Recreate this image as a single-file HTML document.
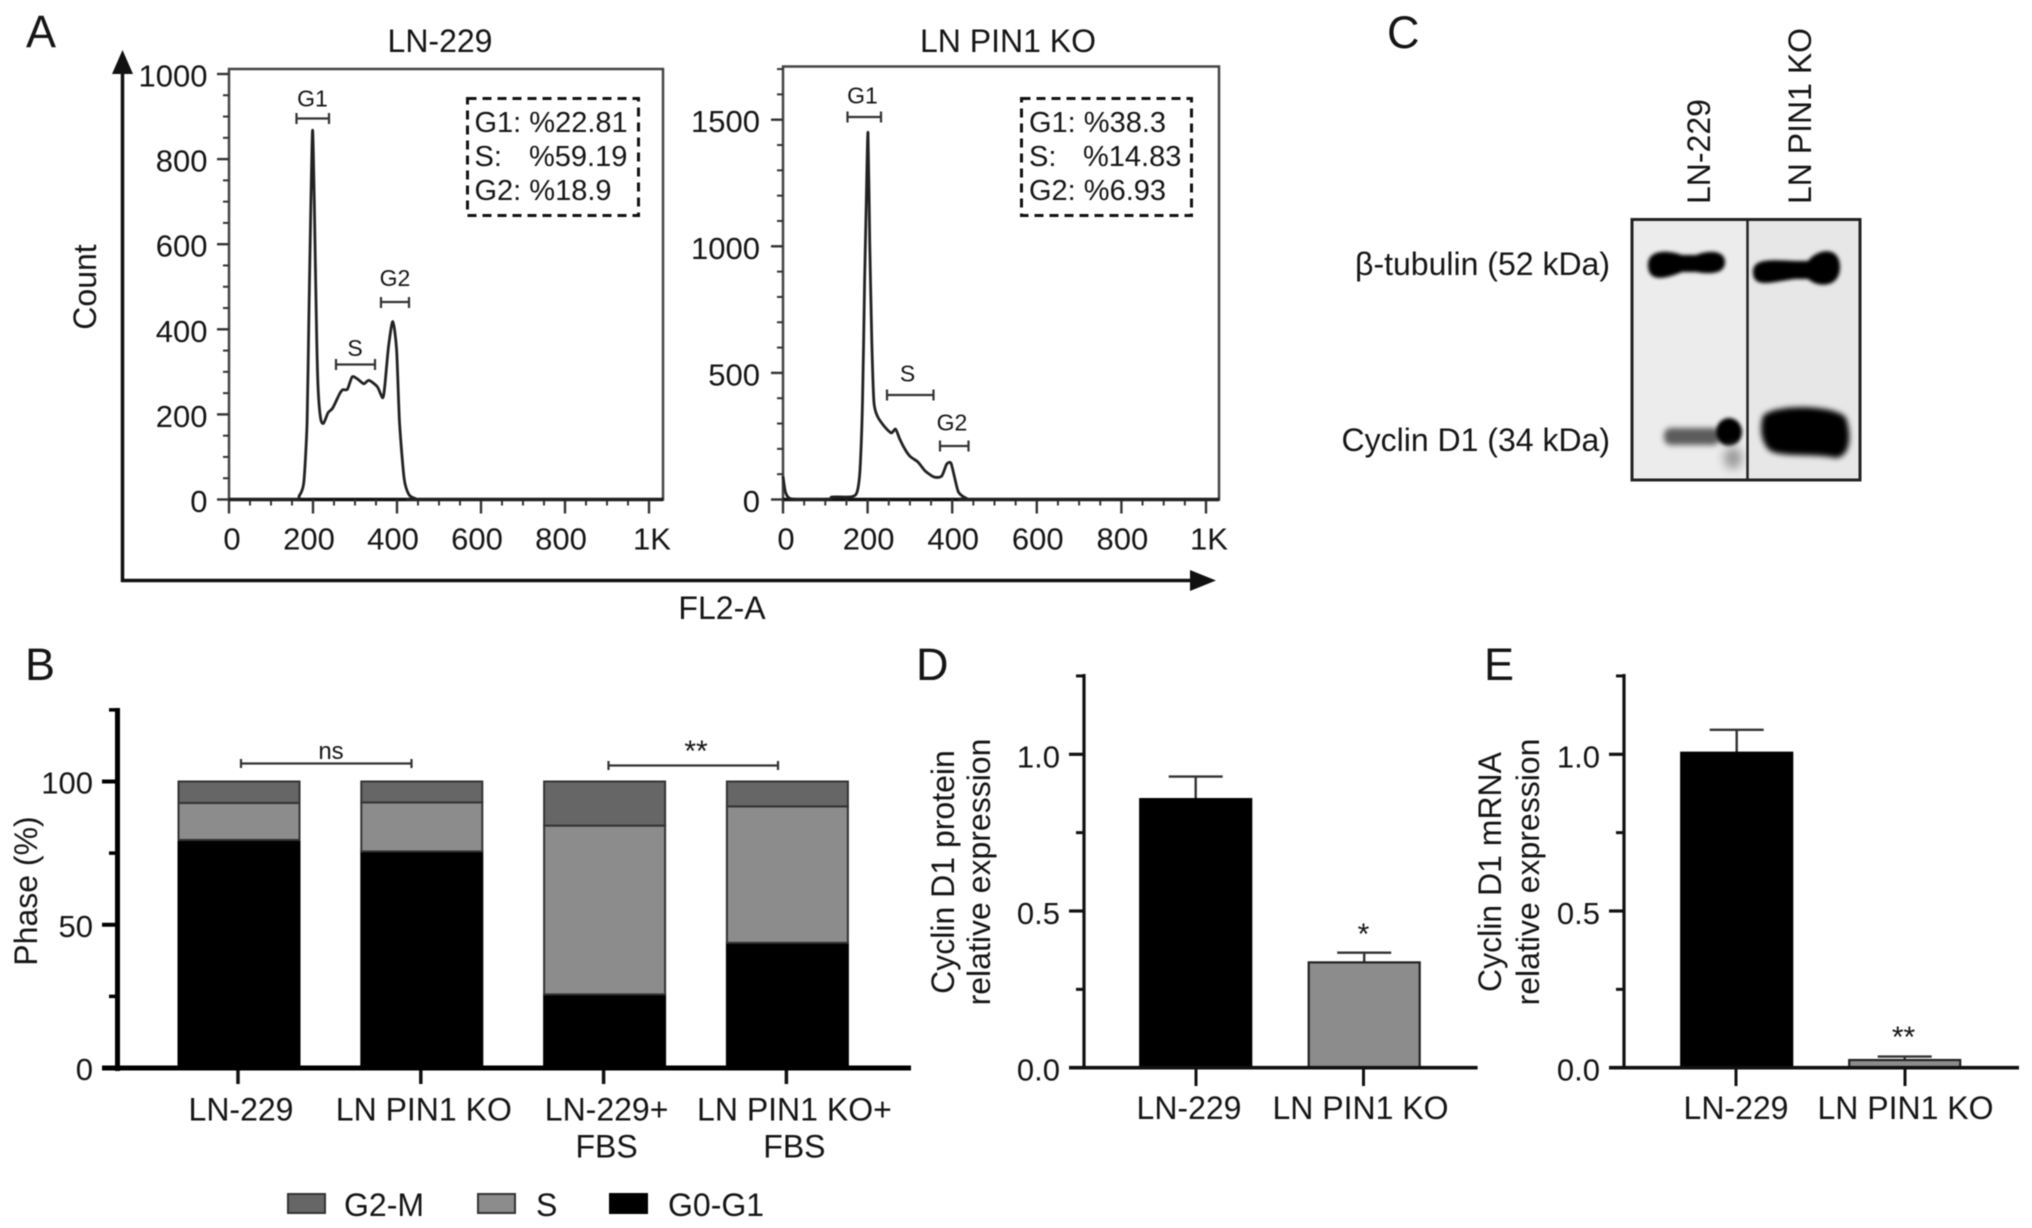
<!DOCTYPE html>
<html lang="en">
<head>
<meta charset="utf-8">
<title>Cell cycle and Cyclin D1 figure</title>
<style>
html,body{margin:0;padding:0;background:#fff;width:2032px;height:1228px;overflow:hidden}
#figure{display:block;filter:blur(0.55px)}
text{font-family:"Liberation Sans",sans-serif;fill:#151515}
</style>
</head>
<body>
<svg id="figure" xmlns="http://www.w3.org/2000/svg" width="2032" height="1228" viewBox="0 0 2032 1228">
  <defs>
    <filter id="blur1" x="-30%" y="-60%" width="160%" height="220%"><feGaussianBlur stdDeviation="1.8"/></filter>
    <filter id="blur3" x="-30%" y="-60%" width="160%" height="220%"><feGaussianBlur stdDeviation="3"/></filter>
    <filter id="blur6" x="-50%" y="-80%" width="200%" height="260%"><feGaussianBlur stdDeviation="5"/></filter>
  </defs>
  <rect x="0" y="0" width="2032" height="1228" fill="#fff"/>

  <!-- panel letters -->
  <text x="26" y="47" font-size="45">A</text>
  <text x="25" y="680" font-size="45">B</text>
  <text x="1387" y="48" font-size="45">C</text>
  <text x="916" y="680" font-size="45">D</text>
  <text x="1484" y="680" font-size="45">E</text>

  <!-- panel A shared axes -->
  <g>
    <line x1="122.5" y1="582" x2="122.5" y2="70" stroke="#111" stroke-width="3.5"/>
    <polygon points="122.5,50 112,74 133,74" fill="#111"/>
    <line x1="121" y1="580.5" x2="1195" y2="580.5" stroke="#111" stroke-width="3.5"/>
    <polygon points="1216,580.5 1190,570 1190,591" fill="#111"/>
  </g>
  <text x="440" y="52" font-size="32" text-anchor="middle">LN-229</text>
  <text x="1008" y="52" font-size="32" text-anchor="middle">LN PIN1 KO</text>
  <text transform="translate(96,287) rotate(-90)" font-size="32" text-anchor="middle">Count</text>
  <text x="722" y="619" font-size="32" text-anchor="middle">FL2-A</text>

  <g id="flow1"></g>
  <g id="flow2"></g>

  <!-- flow gates, left -->
  <g fill="none" stroke="#333" stroke-width="2.2">
    <path d="M296.5 118.5H329M296.5 113v11M329 113v11"/>
    <path d="M336 364.5H375M336 359v11M375 359v11"/>
    <path d="M381 302H409M381 297v11M409 297v11"/>
  </g>
  <text x="312.5" y="106.5" font-size="23" text-anchor="middle">G1</text>
  <text x="355" y="356" font-size="23" text-anchor="middle">S</text>
  <text x="395" y="286" font-size="23" text-anchor="middle">G2</text>
  <rect x="467.5" y="98.5" width="171" height="117" fill="#fff" stroke="#111" stroke-width="3" stroke-dasharray="9 6"/>
  <text x="474.5" y="132" font-size="29">G1: %22.81</text>
  <text x="474.5" y="166" font-size="29"><tspan>S:</tspan><tspan x="529">%59.19</tspan></text>
  <text x="474.5" y="200" font-size="29">G2: %18.9</text>

  <!-- flow gates, right -->
  <g fill="none" stroke="#333" stroke-width="2.2">
    <path d="M847.5 117H881M847.5 111.5v11M881 111.5v11"/>
    <path d="M887 395H933.5M887 389.500v11M933.500 389.500v11"/>
    <path d="M940 446H968.500M940 440.500v11M968.500 440.500v11"/>
  </g>
  <text x="862.5" y="103.5" font-size="23" text-anchor="middle">G1</text>
  <text x="907.5" y="381.5" font-size="23" text-anchor="middle">S</text>
  <text x="952" y="430.5" font-size="23" text-anchor="middle">G2</text>
  <rect x="1021.5" y="98.5" width="170" height="117" fill="#fff" stroke="#111" stroke-width="3" stroke-dasharray="9 6"/>
  <text x="1029" y="132" font-size="29">G1: %38.3</text>
  <text x="1029" y="166" font-size="29"><tspan>S:</tspan><tspan x="1083">%14.83</tspan></text>
  <text x="1029" y="200" font-size="29">G2: %6.93</text>

  <!-- panel C western blot -->
  <g>
    <rect x="1632" y="219.5" width="115.500" height="260.500" fill="#ececec"/>
    <rect x="1747.500" y="219.500" width="112.500" height="260.500" fill="#e7e7e7"/>
    <path d="M1648 265C1648 249 1668 250 1682 255L1696 255C1708 250 1725 250 1725 262C1725 275 1708 274 1696 272L1682 272C1668 278 1648 284 1648 265Z" fill="#000" filter="url(#blur1)"/>
    <path d="M1753 272C1753 258 1772 260 1795 261L1808 261C1818 248 1840 246 1840 267C1840 288 1818 288 1808 279L1795 279C1775 281 1753 290 1753 272Z" fill="#000" filter="url(#blur1)"/>
    <rect x="1664" y="428" width="56" height="17" rx="7" fill="#5c5c5c" filter="url(#blur3)"/>
    <ellipse cx="1729" cy="432" rx="13" ry="14" fill="#000" filter="url(#blur1)"/>
    <ellipse cx="1733" cy="458" rx="9" ry="11" fill="#999" filter="url(#blur6)"/>
    <path d="M1763 416C1775 403 1838 405 1846 418C1851 432 1852 456 1836 458C1815 453 1780 458 1769 450C1760 440 1760 426 1763 416Z" fill="#000" filter="url(#blur3)"/>
    <rect x="1632" y="219.500" width="228" height="260.500" fill="none" stroke="#222" stroke-width="3"/>
    <line x1="1747.500" y1="219.500" x2="1747.500" y2="480" stroke="#222" stroke-width="2.500"/>
  </g>
  <text transform="translate(1710,204) rotate(-90)" font-size="32">LN-229</text>
  <text transform="translate(1811,204) rotate(-90)" font-size="32">LN PIN1 KO</text>
  <text x="1610" y="275" font-size="32" text-anchor="end">β-tubulin (52 kDa)</text>
  <text x="1610" y="451" font-size="32" text-anchor="end">Cyclin D1 (34 kDa)</text>

  <!-- panel B -->
  <g id="stack"></g>
  <text transform="translate(37,891) rotate(-90)" font-size="32" text-anchor="middle">Phase (%)</text>
  <path d="M241 763.500H411.500M241 759v9M411.500 759v9" fill="none" stroke="#333" stroke-width="2.200"/>
  <text x="331" y="759" font-size="24" text-anchor="middle">ns</text>
  <path d="M608.500 765.500H778M608.500 761v9M778 761v9" fill="none" stroke="#333" stroke-width="2.200"/>
  <text x="696" y="761" font-size="30" text-anchor="middle">**</text>
  <g>
    <rect x="288" y="1194" width="37" height="19" fill="#666" stroke="#333" stroke-width="2"/>
    <text x="344" y="1216" font-size="32">G2-M</text>
    <rect x="478" y="1194" width="37" height="19" fill="#8c8c8c" stroke="#333" stroke-width="2"/>
    <text x="536" y="1216" font-size="32">S</text>
    <rect x="610" y="1194" width="37" height="19" fill="#000" stroke="#000" stroke-width="2"/>
    <text x="668" y="1216" font-size="32">G0-G1</text>
  </g>

  <!-- panels D and E -->
  <g id="chartD"></g>
  <g id="chartE"></g>
  <text transform="translate(954,872) rotate(-90)" font-size="32" text-anchor="middle">Cyclin D1 protein</text>
  <text transform="translate(990,872) rotate(-90)" font-size="32" text-anchor="middle">relative expression</text>
  <text transform="translate(1501,872) rotate(-90)" font-size="32" text-anchor="middle">Cyclin D1 mRNA</text>
  <text transform="translate(1539,872) rotate(-90)" font-size="32" text-anchor="middle">relative expression</text>
  <text x="1363.500" y="944" font-size="30" text-anchor="middle">*</text>
  <text x="1903.500" y="1047" font-size="30" text-anchor="middle">**</text>
</svg>

<script>
// Flow cytometry histogram, LN-229
const hist1X = [0,156,167,178,186,190,195,199,203,208,212,218,225,236,247,263,271,282,293,305,321,333,353,366,371,380,390,399,406,417,428,444,460,1030];
const hist1Count = [0,0,8,40,182,418,700,868,700,418,267,191,179,204,215,248,258,259,288,284,272,280,265,239,267,361,418,352,182,50,12,2,0,0];
// Flow cytometry histogram, LN PIN1 KO
const hist2X = [0,6,18,65,111,116,162,175,182,188,193,197,201,205,210,215,223,239,256,266,275,285,300,319,336,357,375,387,397,405,415,433,454,1030];
const hist2Count = [92,29,3,0,2,10,11,29,116,386,862,1179,1449,1020,624,386,330,290,263,278,243,208,171,148,113,89,92,140,144,92,29,5,0,0];
// Flow axis ticks
const flowXTicks = [0,200,400,600,800,1000];
const flowXLabels = ['0','200','400','600','800','1K'];
const flow1YTicks = [0,200,400,600,800,1000];
const flow2YTicks = [0,500,1000,1500];

// Panel B stacked bars
const phaseCategories = [['LN-229'],['LN PIN1 KO'],['LN-229+','FBS'],['LN PIN1 KO+','FBS']];
const phaseG0G1 = [79.6,75.6,25.7,43.7];
const phaseS = [12.9,17.1,58.9,47.6];
const phaseG2M = [7.5,7.3,15.4,8.7];
const phaseTicks = [0,50,100];
const phaseMinorTicks = [25,75,125];

// Panels D and E
const expressionCategories = ['LN-229','LN PIN1 KO'];
const proteinValues = [0.857,0.336];
const proteinErrors = [0.072,0.031];
const mrnaValues = [1.005,0.0245];
const mrnaErrors = [0.073,0.011];
const expressionTicks = [0,0.5,1];
const expressionTickLabels = ['0.0','0.5','1.0'];
const expressionMinorTicks = [0.25,0.75,1.25];

const NS = 'http://www.w3.org/2000/svg';
function add(parent, tag, attrs, content) {
  const el = document.createElementNS(NS, tag);
  for (const k in attrs) el.setAttribute(k, attrs[k]);
  if (content !== undefined) el.textContent = content;
  parent.appendChild(el);
  return el;
}
function linear(d0, d1, r0, r1) {
  return v => r0 + (v - d0) * (r1 - r0) / (d1 - d0);
}
function smoothPath(p) {
  let d = 'M' + p[0][0].toFixed(1) + ' ' + p[0][1].toFixed(1);
  for (let i = 0; i < p.length - 1; i++) {
    const a = p[Math.max(i - 1, 0)], b = p[i], c = p[i + 1], e = p[Math.min(i + 2, p.length - 1)];
    const k = 0.12;
    d += 'C' + (b[0] + (c[0] - a[0]) * k).toFixed(1) + ' ' + (b[1] + (c[1] - a[1]) * k).toFixed(1) + ' ' +
      (c[0] - (e[0] - b[0]) * k).toFixed(1) + ' ' + (c[1] - (e[1] - b[1]) * k).toFixed(1) + ' ' +
      c[0].toFixed(1) + ' ' + c[1].toFixed(1);
  }
  return d;
}

function drawFlow(root, cfg) {
  const x = linear(0, 1000, cfg.x0, cfg.x1000);
  const y = cfg.y;
  let el = add(root, 'rect', {x: cfg.left, y: cfg.top, width: cfg.right - cfg.left, height: cfg.bottom - cfg.top, fill: 'none', stroke: '#444', 'stroke-width': 2.5});
  
  
  el = add(root, 'line', {x1: cfg.left, x2: cfg.right, y1: cfg.bottom, y2: cfg.bottom, stroke: '#111', 'stroke-width': 3.5});
  
  
  for (let v = 0; v <= 1000; v += 50) {
    const major = v % 200 === 0;
    el = add(root, 'line', {x1: x(v), x2: x(v), y1: cfg.bottom, y2: cfg.bottom + (major ? 14 : 6), stroke: '#333', 'stroke-width': major ? 2.4 : 2});
    
    
  }
  flowXTicks.forEach((t, i) => {
    const dx = (i === 0 || i === flowXTicks.length - 1) ? cfg.edgeDx : cfg.midDx;
    const lab = add(root, 'text', {x: x(t) + dx, y: 549.5, 'font-size': 31, 'text-anchor': 'middle'}, flowXLabels[i]);
    
    
  });
  for (let v = 0; v <= cfg.yMaxTick; v += cfg.yMinor) {
    const major = v % cfg.yMajor === 0;
    el = add(root, 'line', {x1: cfg.left - (major ? 12 : 6), x2: cfg.left, y1: y(v), y2: y(v), stroke: '#333', 'stroke-width': major ? 2.4 : 2});
    
    
  }
  cfg.yTicks.forEach(t => {
    const lab = add(root, 'text', {x: cfg.labelRight, y: y(t) + 12.5, 'font-size': 31, 'text-anchor': 'end'}, String(t));
    
    
  });
  const pts = cfg.xs.map((v, i) => [x(v), y(cfg.ys[i])]);
  el = add(root, 'path', {d: smoothPath(pts), fill: 'none', stroke: '#222', 'stroke-width': 2.8, 'stroke-linejoin': 'round'});
  
  
}

drawFlow(document.getElementById('flow1'), {
  x0: 229, x1000: 649, left: 229, right: 663, top: 69, bottom: 499.5,
  y: linear(0, 1000, 499.5, 74), xs: hist1X, ys: hist1Count, yTicks: flow1YTicks,
  yMaxTick: 1000, yMinor: 50, yMajor: 200, labelRight: 207.5, edgeDx: 3, midDx: -4
});
drawFlow(document.getElementById('flow2'), {
  x0: 783, x1000: 1206, left: 783, right: 1219, top: 66.5, bottom: 499.5,
  y: linear(0, 1500, 499.5, 119.7), xs: hist2X, ys: hist2Count, yTicks: flow2YTicks,
  yMaxTick: 1700, yMinor: 100, yMajor: 500, labelRight: 760, edgeDx: 3, midDx: 1
});

// Panel B
(function () {
  const root = document.getElementById('stack');
  const y = linear(0, 100, 1068, 781.5);
  const cx = i => 239 + i * 182.8;
  const barW = 121;
  let el;
  phaseCategories.forEach((cat, i) => {
    let base = 0;
    [[phaseG0G1, '#000', '#000', 'bar-g0-g1'], [phaseS, '#8c8c8c', '#333', 'bar-s'], [phaseG2M, '#666', '#333', 'bar-g2-m']].forEach(s => {
      const v = s[0][i];
      const bar = add(root, 'rect', {x: cx(i) - barW / 2, y: y(base + v), width: barW, height: y(base) - y(base + v), fill: s[1], stroke: s[2], 'stroke-width': 2});
      
      
      base += v;
    });
    el = add(root, 'line', {x1: cx(i) - 1, x2: cx(i) - 1, y1: 1068, y2: 1084, stroke: '#111', 'stroke-width': 3.5});
    
    
    cat.forEach((line, j) => {
      const dx = (i === 3) ? 7 : 2;
      const lab = add(root, 'text', {x: cx(i) + dx, y: j === 0 ? 1120.5 : 1157.5, 'font-size': 32, 'text-anchor': 'middle'}, line);
      
      
    });
  });
  el = add(root, 'line', {x1: 117.5, x2: 117.5, y1: 708, y2: 1071, stroke: '#000', 'stroke-width': 5});
  
  
  el = add(root, 'line', {x1: 102, x2: 911, y1: 1068, y2: 1068, stroke: '#000', 'stroke-width': 5});
  
  
  phaseTicks.forEach(t => {
    const tick = add(root, 'line', {x1: 102, x2: 118, y1: y(t), y2: y(t), stroke: '#000', 'stroke-width': 4});
    
    
    const lab = add(root, 'text', {x: 93, y: y(t) + 12, 'font-size': 31, 'text-anchor': 'end'}, String(t));
    
    
  });
  phaseMinorTicks.forEach(t => {
    const tick = add(root, 'line', {x1: 109, x2: 118, y1: y(t), y2: y(t), stroke: '#000', 'stroke-width': 3.5});
    
    
  });
})();

// Panels D, E
function drawExpression(root, cfg) {
  const y = linear(0, 1, 1067.7, 754.3);
  let el;
  cfg.values.forEach((v, i) => {
    const cx = cfg.barCx[i];
    const stem = add(root, 'line', {x1: cx, x2: cx, y1: y(v), y2: y(v + cfg.errors[i]), stroke: '#333', 'stroke-width': 2.4});
    
    
    const cap = add(root, 'line', {x1: cx - 27, x2: cx + 27, y1: y(v + cfg.errors[i]), y2: y(v + cfg.errors[i]), stroke: '#333', 'stroke-width': 2.4});
    
    
    const bar = add(root, 'rect', {x: cx - 55.500, y: y(v), width: 111, height: y(0) - y(v), fill: i === 0 ? '#000' : '#8c8c8c', stroke: i === 0 ? '#000' : '#222', 'stroke-width': 2.2});
    
    
    const tick = add(root, 'line', {x1: cfg.tickX[i], x2: cfg.tickX[i], y1: 1067.7, y2: 1086, stroke: '#111', 'stroke-width': 3});
    
    
    const lab = add(root, 'text', {x: cfg.labelX[i], y: 1119, 'font-size': 32, 'text-anchor': 'middle'}, expressionCategories[i]);
    
    
  });
  el = add(root, 'line', {x1: cfg.axisX, x2: cfg.axisX, y1: 674, y2: 1069, stroke: '#111', 'stroke-width': 3.2});
  
  
  el = add(root, 'line', {x1: cfg.axisX - 15, x2: cfg.axisEnd, y1: 1067.7, y2: 1067.7, stroke: '#111', 'stroke-width': 3.6});
  
  
  expressionTicks.forEach((t, i) => {
    const tick = add(root, 'line', {x1: cfg.axisX - 15, x2: cfg.axisX, y1: y(t), y2: y(t), stroke: '#111', 'stroke-width': 3.2});
    
    
    const lab = add(root, 'text', {x: cfg.axisX - 24, y: y(t) + 13, 'font-size': 31, 'text-anchor': 'end'}, expressionTickLabels[i]);
    
    
  });
  expressionMinorTicks.forEach(t => {
    const tick = add(root, 'line', {x1: cfg.axisX - 8, x2: cfg.axisX, y1: y(t), y2: y(t), stroke: '#111', 'stroke-width': 3});
    
    
  });
}
drawExpression(document.getElementById('chartD'), {
  values: proteinValues, errors: proteinErrors, barCx: [1195.7, 1364.2], tickX: [1196, 1363.5],
  labelX: [1189, 1360.5], axisX: 1084, axisEnd: 1477.6
});
drawExpression(document.getElementById('chartE'), {
  values: mrnaValues, errors: mrnaErrors, barCx: [1736.7, 1904.7], tickX: [1736, 1905],
  labelX: [1736, 1905.5], axisX: 1624, axisEnd: 2019
});
</script>
</body>
</html>
